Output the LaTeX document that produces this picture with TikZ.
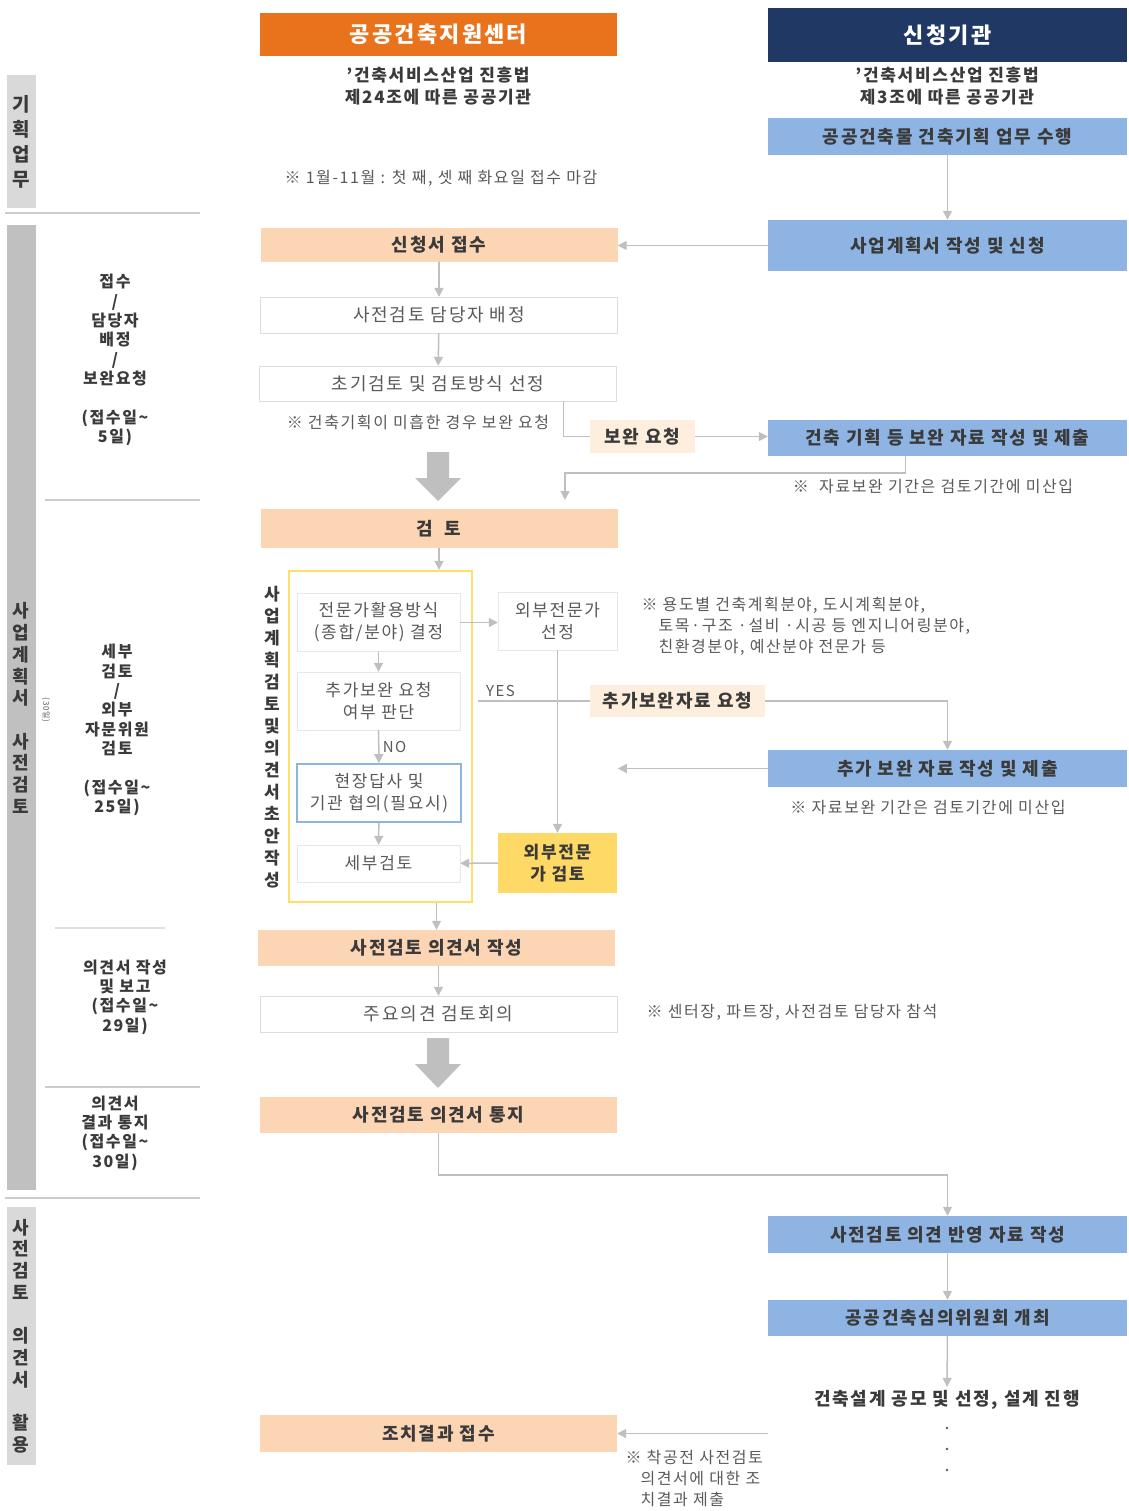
\documentclass[tikz,border=0pt]{standalone}
\usepackage{fontspec}
\setmainfont[LetterSpace=10]{Noto Sans CJK KR}
\usepackage{xcolor}
\usetikzlibrary{arrows.meta,shapes,positioning}

\definecolor{hdorange}{HTML}{E8731C}
\definecolor{hdnavy}{HTML}{1F3864}
\definecolor{peach}{HTML}{FCD5B4}
\definecolor{lightpeach}{HTML}{FDEEDD}
\definecolor{skyblue}{HTML}{8DB4E2}
\definecolor{frameyellow}{HTML}{FFDF6B}
\definecolor{extyellow}{HTML}{FFD966}
\definecolor{barlight}{HTML}{D9D9D9}
\definecolor{barmid}{HTML}{C0C0C0}
\definecolor{linegray}{HTML}{BFBFBF}
\definecolor{boxline}{HTML}{DDDDDD}
\definecolor{txtdark}{HTML}{3A3A3A}
\definecolor{txtgray}{HTML}{595959}

\begin{document}
\begin{tikzpicture}[x=1pt,y=-1pt,
  box/.style={minimum width=357pt,minimum height=36pt,inner sep=0pt,
    font=\fontsize{18}{21}\selectfont\bfseries,text=txtdark},
  peach box/.style={box,fill=peach},
  blue box/.style={box,fill=skyblue,minimum width=359pt},
  white box/.style={box,draw=boxline,fill=white,font=\fontsize{18}{21}\selectfont,text=txtgray},
  small box/.style={minimum width=163pt,minimum height=58pt,inner sep=0pt,align=center,
    draw=boxline!70,fill=white,font=\fontsize{17}{22}\selectfont,text=txtgray},
  tag box/.style={inner sep=0pt,minimum height=33pt,fill=lightpeach,
    font=\fontsize{18}{21}\selectfont\bfseries,text=txtdark},
  header/.style={minimum width=357pt,inner sep=0pt,text=white,font=\fontsize{22}{25}\selectfont\bfseries},
  law/.style={align=center,font=\fontsize{17}{22}\selectfont\bfseries,text=txtdark},
  note/.style={align=left,font=\fontsize{16}{21}\selectfont,text=txtgray},
  step label/.style={align=center,font=\fontsize{16}{19.3}\selectfont\bfseries,text=txtdark},
  bar label/.style={align=center,font=\fontsize{18}{21.7}\selectfont\bfseries,text=txtdark},
  line/.style={draw=linegray,line width=1.5pt},
  arr/.style={line,-{Triangle[length=9pt,width=9pt]}},
  sep/.style={draw=linegray!80,line width=1.2pt}]

  \useasboundingbox (0,0) rectangle (1128,1511);

  % left column: phases
  \fill[barlight] (7,75) rectangle (36,208);
  \node[bar label,font=\fontsize{19}{25}\selectfont\bfseries] (ph1) at (21,142) {기\\획\\업\\무};
  \draw[sep] (5,213) -- (200,213);
  \fill[barmid] (7,225) rectangle (36,1190);
  \node[bar label] (ph2) at (21,708) {사\\업\\계\\획\\서\\~\\사\\전\\검\\토};
  \node[rotate=-90,font=\fontsize{8}{9}\selectfont,text=txtgray] (ph2b) at (46,710) {(30일)};
  \fill[barlight] (7,1207) rectangle (36,1465);
  \node[bar label] (ph3) at (21,1336) {사\\전\\검\\토\\~\\의\\견\\서\\~\\활\\용};

  \node[step label] (s1) at (115,360) {접수\\/\\담당자\\배정\\/\\보완요청\\~\\(접수일\textasciitilde\\5일)};
  \draw[sep] (45,500) -- (200,500);
  \node[step label] (s2) at (117,730) {세부\\검토\\/\\외부\\자문위원\\검토\\~\\(접수일\textasciitilde\\25일)};
  \draw[sep,draw=linegray!50] (55,928) -- (165,928);
  \node[step label] (s3) at (125,997) {의견서 작성\\및 보고\\(접수일\textasciitilde\\29일)};
  \draw[sep] (45,1087) -- (200,1087);
  \node[step label] (s4) at (115,1133) {의견서\\결과 통지\\(접수일\textasciitilde\\30일)};
  \draw[sep] (5,1198) -- (200,1198);

  % headers
  \node[header,fill=hdorange,minimum height=43pt] (center) at (438.5,34.5) {공공건축지원센터};
  \node[header,fill=hdnavy,minimum width=359pt,minimum height=54pt] (agency) at (947.5,35) {신청기관};
  \node[law] (lawc) at (438,86) {'건축서비스산업 진흥법\\제24조에 따른 공공기관};
  \node[law] (lawa) at (947,86) {'건축서비스산업 진흥법\\제3조에 따른 공공기관};

  % applicant side
  \node[blue box,minimum height=37pt] (plan) at (947.5,136.5) {공공건축물 건축기획 업무 수행};
  \node[blue box,minimum height=51pt] (submit) at (947.5,245.5) {사업계획서 작성 및 신청};
  \node[blue box] (suppl) at (947.5,438) {건축 기획 등 보완 자료 작성 및 제출};
  \node[blue box,minimum height=37pt] (addsub) at (947.5,768.5) {추가 보완 자료 작성 및 제출};
  \node[blue box,minimum height=37pt] (reflect) at (947.5,1234.5) {사전검토 의견 반영 자료 작성};
  \node[blue box] (council) at (947.5,1318) {공공건축심의위원회 개최};
  \node[font=\fontsize{18}{21}\selectfont\bfseries,text=txtdark] (contest) at (947,1400) {건축설계 공모 및 선정, 설계 진행};
  \foreach \d in {1428,1449,1470}
    \fill[txtgray] (947,\d) circle (1.4pt);

  % center side
  \node[note] (n1) at (441,178) {※ 1월-11월 : 첫 째, 셋 째 화요일 접수 마감};
  \node[peach box,minimum height=34pt] (recv) at (439,245) {신청서 접수};
  \node[white box] (assign) at (439,315) {사전검토 담당자 배정};
  \node[white box,minimum height=35pt] (init) at (438,383.5) {초기검토 및 검토방식 선정};
  \node[note] (n2) at (418,422) {※ 건축기획이 미흡한 경우 보완 요청};
  \node[tag box,minimum width=105pt] (supreq) at (642.5,436.5) {보완 요청};
  \node[note] (n3) at (933,487) {※\ \ 자료보완 기간은 검토기간에 미산입};
  \node[peach box,minimum height=39pt] (review) at (439,528.5) {검\ \ 토};

  \node[draw=frameyellow,line width=2.2pt,minimum width=183pt,minimum height=331pt] (frm) at (380.5,736.5) {};
  \node[bar label,font=\fontsize{17}{22}\selectfont\bfseries] (vlab) at (272,737)
    {사\\업\\계\\획\\검\\토\\및\\의\\견\\서\\초\\안\\작\\성};
  \node[small box] (expert) at (378.5,622.5) {전문가활용방식\\(종합/분야) 결정};
  \node[small box,minimum width=119pt] (extsel) at (557.5,621) {외부전문가\\선정};
  \node[note,anchor=north west] (n4) at (638,594)
    {※ 용도별 건축계획분야, 도시계획분야,\\\hspace{17pt}토목·구조 ·설비 ·시공 등 엔지니어링분야,\\\hspace{17pt}친환경분야, 예산분야 전문가 등};
  \node[small box] (judge) at (378.5,701) {추가보완 요청\\여부 판단};
  \node[tag box,minimum width=175pt,minimum height=32pt] (addreq) at (677.5,701) {추가보완자료 요청};
  \node[note] (n5) at (928,808) {※ 자료보완 기간은 검토기간에 미산입};
  \node[small box,draw=skyblue,line width=1.6pt,minimum width=164pt] (visit) at (379,793) {현장답사 및\\기관 협의(필요시)};
  \node[small box,minimum height=37pt] (detail) at (378.5,863.5) {세부검토};
  \node[small box,minimum width=119pt,minimum height=60pt,fill=extyellow,draw=none,
    font=\fontsize{17}{22}\selectfont\bfseries,text=txtdark] (extrev) at (557.5,863) {외부전문\\가 검토};

  \node[peach box] (opinion) at (436.5,948) {사전검토 의견서 작성};
  \node[white box] (meeting) at (438.5,1014) {주요의견 검토회의};
  \node[note] (n6) at (792,1012) {※ 센터장, 파트장, 사전검토 담당자 참석};
  \node[peach box] (notify) at (438.5,1115) {사전검토 의견서 통지};
  \node[peach box,minimum height=37pt] (result) at (438.5,1433.5) {조치결과 접수};
  \node[note,anchor=north west] (n7) at (622,1447)
    {※ 착공전 사전검토\\\hspace{15pt}의견서에 대한 조\\\hspace{15pt}치결과 제출};

  % big arrows
  \fill[linegray] (427,452) -- (449,452) -- (449,478) -- (461,478) -- (438,501)
    -- (415,478) -- (427,478) -- cycle;
  \fill[linegray] (427,1038) -- (449,1038) -- (449,1064) -- (461,1064) -- (438,1088)
    -- (415,1064) -- (427,1064) -- cycle;

  % connectors
  \draw[arr] (plan) -- (submit);
  \draw[arr] (submit.west) -- (submit.west -| recv.east);
  \draw[arr] (recv) -- (assign);
  \draw[arr] (assign) -- (init);
  \draw[line] ([xshift=-53pt]init.south east) |- (supreq.west);
  \draw[arr] (supreq.east) -- (supreq.east -| suppl.west);
  \coordinate (retin) at (565,500);
  \draw[arr] ([xshift=-42pt]suppl.south) -- ++(0,17) -| (retin);
  \draw[arr] (review) -- (review.south |- frm.north);
  \draw[arr] (expert.east) -- (expert.east -| extsel.west);
  \draw[arr] (expert) -- (judge);
  \draw[arr] (judge) -- node[right,font=\fontsize{15}{17}\selectfont,text=txtgray] {NO} (visit);
  \draw[arr] (visit) -- (detail);
  \draw[arr] (extsel) -- (extrev);
  \draw[arr] (extrev) -- (detail);
  \draw[line] ([xshift=18pt]judge.east) -- node[pos=0.2,above,font=\fontsize{15}{17}\selectfont,text=txtgray] {YES} (addreq.west);
  \draw[arr] (addreq.east) -| (addsub.north);
  \draw[arr] (addsub.west) -- ++(-150,0);
  \draw[arr] (opinion.north |- frm.south) -- (opinion.north);
  \draw[arr] (opinion.south -| meeting.north) -- (meeting);
  \draw[arr] (notify.south) -- ++(0,42) -| (reflect.north);
  \draw[arr] (reflect) -- (council);
  \draw[arr] (council) -- (contest);
  \draw[arr] (reflect.west |- result.east) -- (result.east);
\end{tikzpicture}
\end{document}
